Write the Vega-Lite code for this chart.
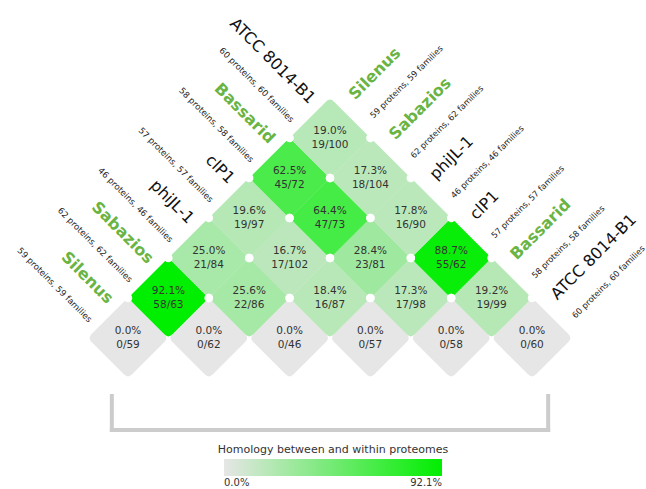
{
  "$schema": "https://vega.github.io/schema/vega-lite/v6.json",
  "width": 646,
  "height": 489,
  "autosize": {"type": "none"},
  "padding": 0,
  "config": {"view": {"stroke": null}, "font": "DejaVu Sans"},
  "datasets": {
    "cells": [
      {"i": 0, "j": 0, "pct": 0.0, "shared": 0, "total": 59},
      {"i": 1, "j": 1, "pct": 0.0, "shared": 0, "total": 62},
      {"i": 2, "j": 2, "pct": 0.0, "shared": 0, "total": 46},
      {"i": 3, "j": 3, "pct": 0.0, "shared": 0, "total": 57},
      {"i": 4, "j": 4, "pct": 0.0, "shared": 0, "total": 58},
      {"i": 5, "j": 5, "pct": 0.0, "shared": 0, "total": 60},
      {"i": 0, "j": 1, "pct": 92.1, "shared": 58, "total": 63},
      {"i": 1, "j": 2, "pct": 25.6, "shared": 22, "total": 86},
      {"i": 2, "j": 3, "pct": 18.4, "shared": 16, "total": 87},
      {"i": 3, "j": 4, "pct": 17.3, "shared": 17, "total": 98},
      {"i": 4, "j": 5, "pct": 19.2, "shared": 19, "total": 99},
      {"i": 0, "j": 2, "pct": 25.0, "shared": 21, "total": 84},
      {"i": 1, "j": 3, "pct": 16.7, "shared": 17, "total": 102},
      {"i": 2, "j": 4, "pct": 28.4, "shared": 23, "total": 81},
      {"i": 3, "j": 5, "pct": 88.7, "shared": 55, "total": 62},
      {"i": 0, "j": 3, "pct": 19.6, "shared": 19, "total": 97},
      {"i": 1, "j": 4, "pct": 64.4, "shared": 47, "total": 73},
      {"i": 2, "j": 5, "pct": 17.8, "shared": 16, "total": 90},
      {"i": 0, "j": 4, "pct": 62.5, "shared": 45, "total": 72},
      {"i": 1, "j": 5, "pct": 17.3, "shared": 18, "total": 104},
      {"i": 0, "j": 5, "pct": 19.0, "shared": 19, "total": 100}
    ],
    "genomes": [
      {"idx": 0, "name": "Silenus", "proteins": 59, "families": 59, "highlight": true},
      {"idx": 1, "name": "Sabazios", "proteins": 62, "families": 62, "highlight": true},
      {"idx": 2, "name": "phiJL-1", "proteins": 46, "families": 46, "highlight": false},
      {"idx": 3, "name": "clP1", "proteins": 57, "families": 57, "highlight": false},
      {"idx": 4, "name": "Bassarid", "proteins": 58, "families": 58, "highlight": true},
      {"idx": 5, "name": "ATCC 8014-B1", "proteins": 60, "families": 60, "highlight": false}
    ]
  },
  "encoding": {
    "x": {"field": "px", "type": "quantitative", "scale": {"domain": [-3.1683, 12.8218], "nice": false, "zero": false}, "axis": null},
    "y": {"field": "py", "type": "quantitative", "scale": {"domain": [-3.775, 8.45], "nice": false, "zero": false}, "axis": null}
  },
  "layer": [
    {
      "data": {"name": "genomes"},
      "transform": [
        {"filter": "datum.idx == 0"},
        {"calculate": "-0.4", "as": "px"},
        {"calculate": "10.4", "as": "px2"},
        {"calculate": "-2.3", "as": "py"},
        {"calculate": "-1.45", "as": "py2"}
      ],
      "layer": [
        {
          "mark": {"type": "rule", "color": "#cccccc", "strokeWidth": 4, "strokeCap": "square"},
          "encoding": {"x2": {"field": "px2"}}
        },
        {
          "mark": {"type": "rule", "color": "#cccccc", "strokeWidth": 4, "strokeCap": "square"},
          "encoding": {"y2": {"field": "py2"}}
        },
        {
          "mark": {"type": "rule", "color": "#cccccc", "strokeWidth": 4, "strokeCap": "square"},
          "encoding": {"x": {"field": "px2", "type": "quantitative"}, "y2": {"field": "py2"}}
        }
      ]
    },
    {
      "data": {"name": "cells"},
      "transform": [
        {"calculate": "datum.i + datum.j", "as": "px"},
        {"calculate": "datum.j - datum.i", "as": "py"}
      ],
      "mark": {
        "type": "point",
        "shape": "M0.1,-0.9L0.9,-0.1Q1,0 0.9,0.1L0.1,0.9Q0,1 -0.1,0.9L-0.9,0.1Q-1,0 -0.9,-0.1L-0.1,-0.9Q0,-1 0.1,-0.9Z",
        "filled": true,
        "size": 6529,
        "opacity": 1,
        "strokeWidth": 0
      },
      "encoding": {
        "color": {
          "field": "pct",
          "type": "quantitative",
          "scale": {"domain": [0, 92.1], "range": ["#e6e6e6", "#00ee00"], "interpolate": "rgb"},
          "legend": {
            "title": "Homology between and within proteomes",
            "orient": "none",
            "legendX": 218,
            "legendY": 444,
            "direction": "horizontal",
            "gradientLength": 218,
            "gradientThickness": 17,
            "gradientStrokeWidth": 0,
            "values": [0, 92.1],
            "labelExpr": "format(datum.value, '.1f') + '%'",
            "titleAnchor": "middle",
            "titleLimit": 400,
            "titleFontSize": 11,
            "titleFontWeight": "normal",
            "titleColor": "#333333",
            "titlePadding": 4,
            "labelFontSize": 10,
            "labelColor": "#333333",
            "labelAlign": "center",
            "labelOffset": 2
          }
        }
      }
    },
    {
      "data": {"name": "cells"},
      "transform": [
        {"calculate": "datum.i + datum.j - 1", "as": "px"},
        {"calculate": "datum.j - datum.i", "as": "py"},
        {"filter": "datum.py >= 1"}
      ],
      "mark": {"type": "point", "shape": "circle", "filled": true, "color": "white", "size": 72, "opacity": 1, "strokeWidth": 0}
    },
    {
      "data": {"name": "cells"},
      "transform": [
        {"calculate": "datum.i + datum.j + 1", "as": "px"},
        {"calculate": "datum.j - datum.i", "as": "py"},
        {"filter": "datum.py >= 1"}
      ],
      "mark": {"type": "point", "shape": "circle", "filled": true, "color": "white", "size": 72, "opacity": 1, "strokeWidth": 0}
    },
    {
      "data": {"name": "cells"},
      "transform": [
        {"calculate": "datum.i + datum.j", "as": "px"},
        {"calculate": "datum.j - datum.i", "as": "py"},
        {"calculate": "format(datum.pct, '.1f') + '%\\n' + datum.shared + '/' + datum.total", "as": "label"}
      ],
      "mark": {"type": "text", "fontSize": 10.5, "lineHeight": 14, "dy": -7, "color": "#333333", "lineBreak": "\n", "baseline": "middle"},
      "encoding": {"text": {"field": "label"}}
    },
    {
      "data": {"name": "genomes"},
      "transform": [
        {"calculate": "datum.idx - 0.68", "as": "px"},
        {"calculate": "datum.idx + 0.68", "as": "py"},
        {"calculate": "datum.proteins + ' proteins, ' + datum.families + ' families'", "as": "sub"}
      ],
      "layer": [
        {
          "transform": [{"filter": "datum.highlight"}],
          "mark": {"type": "text", "angle": 45, "align": "right", "baseline": "middle", "dy": -14, "fontSize": 16, "fontWeight": "bold", "color": "#69b443"},
          "encoding": {"text": {"field": "name"}}
        },
        {
          "transform": [{"filter": "!datum.highlight"}],
          "mark": {"type": "text", "angle": 45, "align": "right", "baseline": "middle", "dy": -14, "fontSize": 16, "color": "#111111"},
          "encoding": {"text": {"field": "name"}}
        },
        {
          "mark": {"type": "text", "angle": 45, "align": "right", "baseline": "middle", "dy": 14, "fontSize": 8.6, "color": "#222222"},
          "encoding": {"text": {"field": "sub"}}
        }
      ]
    },
    {
      "data": {"name": "genomes"},
      "transform": [
        {"calculate": "datum.idx + 5 + 0.78", "as": "px"},
        {"calculate": "5 - datum.idx + 0.78", "as": "py"},
        {"calculate": "datum.proteins + ' proteins, ' + datum.families + ' families'", "as": "sub"}
      ],
      "layer": [
        {
          "transform": [{"filter": "datum.highlight"}],
          "mark": {"type": "text", "angle": 315, "align": "left", "baseline": "middle", "dy": -14, "fontSize": 16, "fontWeight": "bold", "color": "#69b443"},
          "encoding": {"text": {"field": "name"}}
        },
        {
          "transform": [{"filter": "!datum.highlight"}],
          "mark": {"type": "text", "angle": 315, "align": "left", "baseline": "middle", "dy": -14, "fontSize": 16, "color": "#111111"},
          "encoding": {"text": {"field": "name"}}
        },
        {
          "mark": {"type": "text", "angle": 315, "align": "left", "baseline": "middle", "dy": 14, "fontSize": 8.4, "color": "#222222"},
          "encoding": {"text": {"field": "sub"}}
        }
      ]
    }
  ]
}
